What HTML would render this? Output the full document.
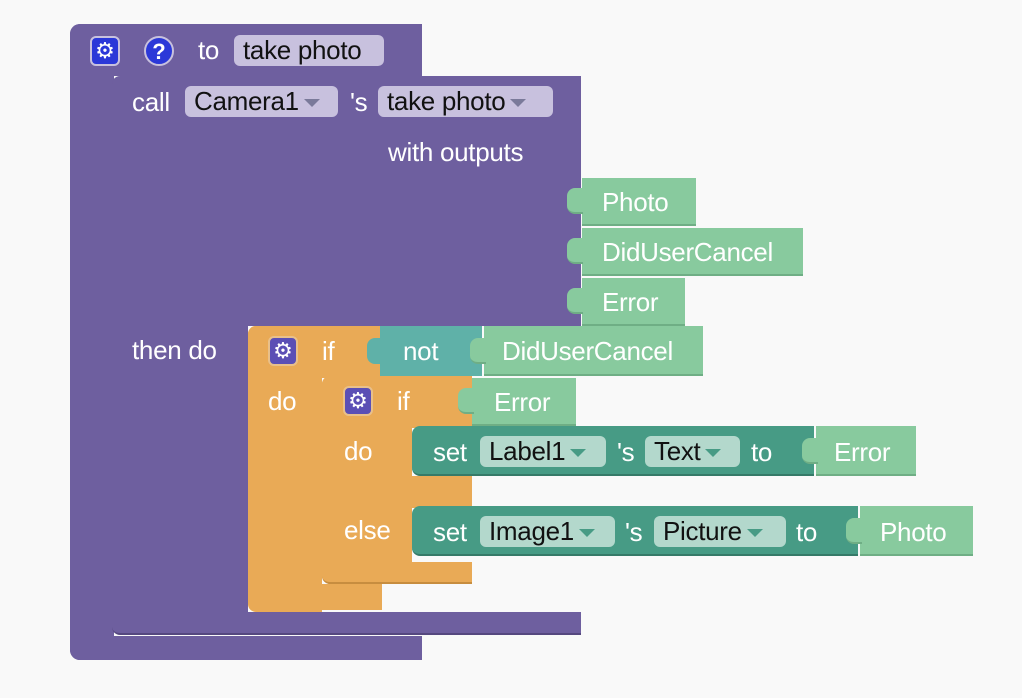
<!DOCTYPE html>
<html><head><meta charset="utf-8"><style>
html,body{margin:0;padding:0;width:1022px;height:698px;background:#f9f9f9;overflow:hidden}
.a{position:absolute}
.p{background:#6e5f9f}
.o{background:#e9aa56}
.t{background:#479b85}
.g{background:#88ca9e;border-bottom:2px solid #6fae85;box-sizing:border-box}
.n{background:#5fb1a8}
.tx{position:absolute;font-family:"Liberation Sans",sans-serif;font-size:26px;color:#fff;line-height:30px;white-space:nowrap;letter-spacing:-0.3px}
.f{position:absolute;border-radius:6px;font-family:"Liberation Sans",sans-serif;font-size:26px;color:#111;line-height:31px;padding-left:9px;box-sizing:border-box;white-space:nowrap;letter-spacing:-0.3px}
.fp{background:#c8c1de}
.ft{background:#b3d8cc}
.dd{display:inline-block;width:0;height:0;border-left:8px solid transparent;border-right:8px solid transparent;border-top:8px solid #7a7a9a;margin-left:5px;vertical-align:middle}
.ft .dd{border-top-color:#479b85}
.tab{position:absolute;width:16px;height:26px;border-radius:8px 0 0 8px}
.ic{position:absolute;width:30px;height:30px;border-radius:6px;color:#fff;font-size:22px;text-align:center;line-height:28px;font-family:"DejaVu Sans",sans-serif;box-sizing:border-box;border:2px solid #c8c1de}
</style></head><body>
<!-- outer procedure -->
<div class="a p" style="left:70px;top:24px;width:352px;height:52px;border-radius:10px 0 0 0"></div>
<div class="a p" style="left:70px;top:24px;width:44px;height:636px;border-radius:10px 0 0 10px"></div>
<div class="a p" style="left:70px;top:636px;width:352px;height:24px;border-radius:0 0 0 10px"></div>
<div class="ic" style="left:90px;top:36px;background:#2b38d8">⚙</div>
<div class="ic" style="left:144px;top:36px;background:#2b38d8;border-radius:50%;font-weight:bold;font-family:'Liberation Sans',sans-serif">?</div>
<div class="tx" style="left:198px;top:35px">to</div>
<div class="f fp" style="left:234px;top:35px;width:150px">take photo</div>
<!-- call block -->
<div class="a p" style="left:112px;top:76px;width:469px;height:250px;border-radius:8px 0 0 0"></div>
<div class="a p" style="left:112px;top:320px;width:136px;height:296px"></div>
<div class="a p" style="left:112px;top:612px;width:469px;height:23px;border-radius:0 0 0 8px;border-bottom:2px solid #55487f;box-sizing:border-box"></div>
<div class="tx" style="left:132px;top:87px">call</div>
<div class="f fp" style="left:185px;top:86px;width:153px">Camera1<span class="dd"></span></div>
<div class="tx" style="left:350px;top:87px">'s</div>
<div class="f fp" style="left:378px;top:86px;width:175px">take photo<span class="dd"></span></div>
<div class="tx" style="left:388px;top:137px">with outputs</div>
<div class="tx" style="left:132px;top:335px">then do</div>
<!-- outputs -->
<div class="a g" style="left:582px;top:178px;width:114px;height:48px"></div><div class="tab g" style="left:567px;top:188px"></div>
<div class="tx" style="left:602px;top:187px">Photo</div>
<div class="a g" style="left:582px;top:228px;width:221px;height:48px"></div><div class="tab g" style="left:567px;top:238px"></div>
<div class="tx" style="left:602px;top:237px">DidUserCancel</div>
<div class="a g" style="left:582px;top:278px;width:103px;height:48px"></div><div class="tab g" style="left:567px;top:288px"></div>
<div class="tx" style="left:602px;top:287px">Error</div>
<!-- outer if -->
<div class="a o" style="left:248px;top:326px;width:134px;height:52px;border-radius:8px 0 0 0"></div>
<div class="a o" style="left:248px;top:326px;width:74px;height:286px;border-radius:8px 0 0 8px"></div>
<div class="a o" style="left:248px;top:584px;width:134px;height:26px;border-radius:0 0 0 8px"></div>
<div class="ic" style="left:268px;top:336px;background:#5b4fb5;border-color:#e9c08a">⚙</div>
<div class="tx" style="left:322px;top:336px">if</div>
<div class="a n" style="left:380px;top:326px;width:102px;height:50px"></div><div class="tab n" style="left:367px;top:338px"></div>
<div class="tx" style="left:403px;top:336px">not</div>
<div class="a g" style="left:484px;top:326px;width:219px;height:50px"></div><div class="tab g" style="left:470px;top:338px"></div>
<div class="tx" style="left:502px;top:336px">DidUserCancel</div>
<div class="tx" style="left:268px;top:386px">do</div>
<!-- inner if -->
<div class="a o" style="left:322px;top:376px;width:150px;height:52px;border-radius:8px 0 0 0"></div>
<div class="a o" style="left:322px;top:376px;width:90px;height:208px;border-radius:8px 0 0 8px"></div>
<div class="a o" style="left:412px;top:476px;width:60px;height:32px"></div>
<div class="a o" style="left:322px;top:562px;width:150px;height:22px;border-radius:0 0 0 8px;border-bottom:2px solid #c78d3f;box-sizing:border-box"></div>
<div class="ic" style="left:343px;top:386px;background:#5b4fb5;border-color:#e9c08a">⚙</div>
<div class="tx" style="left:397px;top:386px">if</div>
<div class="a g" style="left:472px;top:378px;width:104px;height:48px"></div><div class="tab g" style="left:458px;top:388px"></div>
<div class="tx" style="left:494px;top:387px">Error</div>
<div class="tx" style="left:344px;top:436px">do</div>
<div class="tx" style="left:344px;top:515px">else</div>
<!-- set 1 -->
<div class="a t" style="left:412px;top:426px;width:402px;height:50px;border-radius:8px 0 0 8px;border-bottom:2px solid #367a68;box-sizing:border-box"></div>
<div class="tx" style="left:433px;top:437px">set</div>
<div class="f ft" style="left:480px;top:436px;width:126px">Label1<span class="dd"></span></div>
<div class="tx" style="left:617px;top:437px">'s</div>
<div class="f ft" style="left:645px;top:436px;width:95px">Text<span class="dd"></span></div>
<div class="tx" style="left:751px;top:437px">to</div>
<div class="a g" style="left:816px;top:426px;width:100px;height:50px"></div><div class="tab g" style="left:802px;top:438px"></div>
<div class="tx" style="left:834px;top:437px">Error</div>
<!-- set 2 -->
<div class="a t" style="left:412px;top:506px;width:446px;height:50px;border-radius:8px 0 0 8px;border-bottom:2px solid #367a68;box-sizing:border-box"></div>
<div class="tx" style="left:433px;top:517px">set</div>
<div class="f ft" style="left:480px;top:516px;width:135px">Image1<span class="dd"></span></div>
<div class="tx" style="left:625px;top:517px">'s</div>
<div class="f ft" style="left:654px;top:516px;width:132px">Picture<span class="dd"></span></div>
<div class="tx" style="left:796px;top:517px">to</div>
<div class="a g" style="left:860px;top:506px;width:113px;height:50px"></div><div class="tab g" style="left:846px;top:518px"></div>
<div class="tx" style="left:880px;top:517px">Photo</div>
</body></html>
